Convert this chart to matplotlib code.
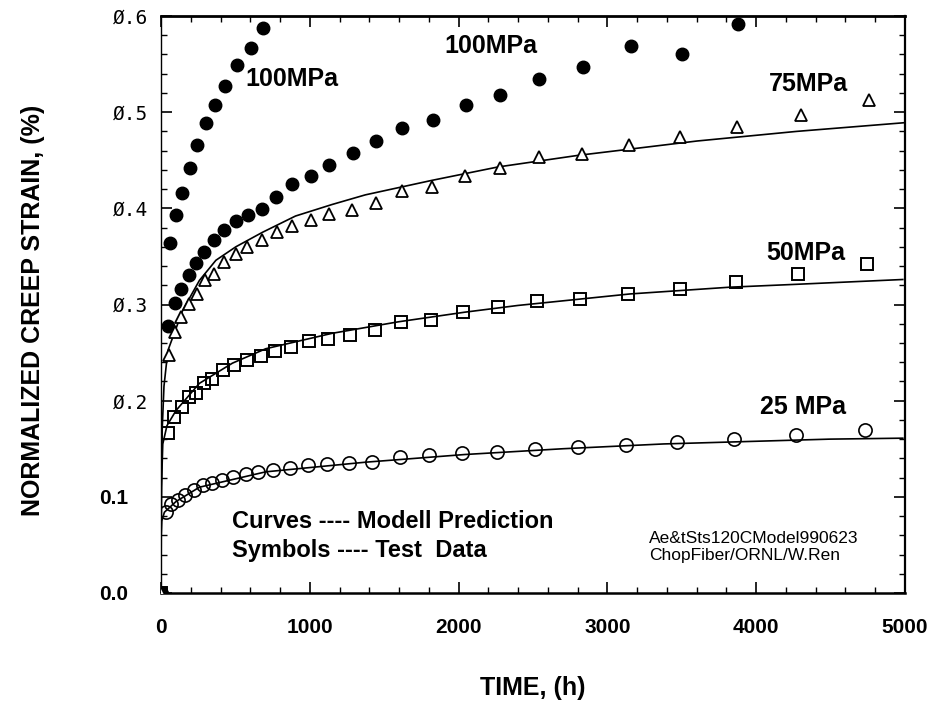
import matplotlib
matplotlib.use("Agg")
import matplotlib.pyplot as plt
from matplotlib.ticker import MultipleLocator, FixedLocator
from matplotlib.transforms import ScaledTranslation

# ---------------- data ----------------
# 100 MPa, fast test
t100a = [0, 62, 102, 139, 195, 242, 302, 365, 431, 514, 603, 686]
e100a = [0, 0.364, 0.393, 0.416, 0.442, 0.466, 0.489, 0.507, 0.527, 0.549, 0.567, 0.588]

# 100 MPa, second test
t100b = [0, 50, 95, 135, 186, 235, 291, 353, 425, 503, 587, 677, 775, 882, 1009,
         1132, 1288, 1443, 1622, 1825, 2048, 2280, 2542, 2833, 3156, 3502, 3876]
e100b = [0, 0.278, 0.302, 0.316, 0.331, 0.343, 0.355, 0.367, 0.377, 0.387, 0.393,
         0.399, 0.412, 0.425, 0.434, 0.445, 0.458, 0.470, 0.484, 0.492, 0.507,
         0.518, 0.534, 0.547, 0.569, 0.560, 0.592]

# 75 MPa
t75 = [0, 57, 97, 135, 186, 242, 298, 358, 425, 503, 581, 677, 777, 882, 1005,
       1132, 1283, 1443, 1622, 1818, 2041, 2276, 2538, 2829, 3146, 3490, 3874,
       4298, 4757]
e75 = [0, 0.247, 0.271, 0.287, 0.301, 0.311, 0.325, 0.332, 0.344, 0.353, 0.360,
       0.367, 0.375, 0.382, 0.388, 0.394, 0.398, 0.406, 0.418, 0.422, 0.434,
       0.442, 0.453, 0.456, 0.466, 0.474, 0.485, 0.497, 0.513]

# 50 MPa
t50 = [0, 45, 90, 142, 186, 235, 286, 346, 418, 492, 581, 670, 766, 875, 993,
       1122, 1272, 1435, 1613, 1814, 2030, 2264, 2527, 2817, 3138, 3486, 3863,
       4282, 4746]
e50 = [0, 0.166, 0.183, 0.193, 0.204, 0.208, 0.218, 0.223, 0.232, 0.237, 0.242,
       0.246, 0.252, 0.256, 0.262, 0.264, 0.268, 0.273, 0.282, 0.284, 0.292,
       0.297, 0.304, 0.306, 0.311, 0.316, 0.323, 0.332, 0.342]

# 25 MPa
t25 = [0, 35, 68, 112, 164, 219, 280, 342, 413, 485, 570, 654, 753, 864, 987,
       1116, 1266, 1421, 1607, 1801, 2023, 2260, 2516, 2804, 3122, 3468, 3848,
       4266, 4732]
e25 = [0, 0.084, 0.093, 0.097, 0.102, 0.107, 0.112, 0.114, 0.118, 0.121, 0.124,
       0.126, 0.128, 0.130, 0.133, 0.134, 0.135, 0.136, 0.141, 0.143, 0.146,
       0.147, 0.150, 0.152, 0.154, 0.157, 0.160, 0.164, 0.169]

# model prediction curves
tm75 = [0, 2, 8, 20, 46, 146, 258, 369, 503, 681, 904, 1150, 1373, 1818, 2264,
        2799, 3602, 4271, 4993]
em75 = [0, 0.10, 0.17, 0.215, 0.252, 0.294, 0.325, 0.346, 0.360, 0.375, 0.392,
        0.404, 0.414, 0.429, 0.443, 0.455, 0.470, 0.480, 0.489]
tm50 = [0, 3, 12, 40, 102, 258, 480, 704, 1149, 1595, 2041, 2398, 3154, 3823,
        4271, 4985]
em50 = [0, 0.11, 0.155, 0.174, 0.190, 0.218, 0.239, 0.254, 0.270, 0.282, 0.292,
        0.299, 0.311, 0.318, 0.321, 0.326]
tm25 = [0, 1, 5, 23, 100, 258, 704, 1373, 2041, 2700, 3379, 4494, 4985]
em25 = [0, 0.06, 0.075, 0.084, 0.095, 0.110, 0.126, 0.136, 0.144, 0.150, 0.155,
        0.160, 0.161]

xticks = [0, 1000, 2000, 3000, 4000, 5000]
xticklabels = ["0", "1000", "2000", "3000", "4000", "5000"]
yticks = [0.0, 0.1, 0.2, 0.3, 0.4, 0.5, 0.6]
yticklabels = ["0.0", "0.1", "Ø.2", "Ø.3", "Ø.4", "Ø.5", "Ø.6"]

labels = ["100MPa", "100MPa", "75MPa", "50MPa", "25 MPa"]
label_pos = [(570, 0.535), (1903, 0.569), (4082, 0.529), (4070, 0.354), (4026, 0.193)]

# ---------------- figure ----------------
W, H = 939, 709
fig = plt.figure(figsize=(W / 100, H / 100), dpi=100)
ax = fig.add_axes([161 / W, 116 / H, 744 / W, 577 / H])

SANS = "Liberation Sans"

for t, e in [(tm75, em75), (tm50, em50), (tm25, em25)]:
    ax.plot(t, e, color="black", lw=1.2, zorder=2)

ax.plot(t100a, e100a, ls="none", marker="o", ms=9, color="black", zorder=3)
ax.plot(t100b, e100b, ls="none", marker="o", ms=9, color="black", zorder=3)
ax.plot(t75, e75, ls="none", marker="^", ms=9, mfc="white", mec="black", mew=1.3, zorder=3)
ax.plot(t50, e50, ls="none", marker="s", ms=9, mfc="none", mec="black", mew=1.4, zorder=3)
ax.plot(t25, e25, ls="none", marker="o", ms=9.5, mfc="none", mec="black", mew=1.2, zorder=3)

ax.set_xlim(0, 5000)
ax.set_ylim(0, 0.6)

ax.xaxis.set_major_locator(FixedLocator(xticks))
ax.set_xticklabels(xticklabels)
ax.xaxis.set_minor_locator(MultipleLocator(200))
ax.yaxis.set_major_locator(FixedLocator(yticks))
ax.set_yticklabels(yticklabels)
ax.yaxis.set_minor_locator(MultipleLocator(0.02))

ax.tick_params(which="both", direction="in", top=True, right=True, color="black")
ax.tick_params(which="major", length=8, width=1.2)
ax.tick_params(which="minor", length=4.5, width=1.0)
ax.tick_params(axis="x", pad=18)
ax.tick_params(axis="y", pad=9)

for lab in ax.get_xticklabels():
    lab.set_fontfamily(SANS)
    lab.set_fontweight("bold")
    lab.set_fontsize(15)

for i, lab in enumerate(ax.get_yticklabels()):
    if i < 2:
        lab.set_fontfamily(SANS)
        lab.set_fontweight("bold")
        lab.set_fontsize(15)
        lab.set_transform(lab.get_transform() + ScaledTranslation(-0.2, 0, fig.dpi_scale_trans))
    else:
        lab.set_fontfamily("DejaVu Sans Mono")
        lab.set_fontsize(14)

ax.spines["left"].set_linewidth(1.0)
ax.spines["top"].set_linewidth(2.0)
ax.spines["bottom"].set_linewidth(1.8)
ax.spines["right"].set_linewidth(1.6)

ax.set_xlabel("TIME, (h)", fontfamily=SANS, fontweight="bold", fontsize=18, labelpad=28)
ax.set_ylabel("NORMALIZED CREEP STRAIN, (%)", fontfamily=SANS, fontweight="bold",
              fontsize=18)
ax.yaxis.set_label_coords(-0.156, 0.49)

for s, (x, y) in zip(labels, label_pos):
    ax.text(x, y, s, fontfamily=SANS, fontweight="bold", fontsize=18, ha="left", va="center")

ax.text(480, 0.074, "Curves ---- Modell Prediction", fontfamily=SANS, fontweight="bold",
        fontsize=17, ha="left", va="center")
ax.text(480, 0.044, "Symbols ---- Test  Data", fontfamily=SANS, fontweight="bold",
        fontsize=17, ha="left", va="center")
ax.text(3280, 0.048, "Ae&tSts120CModel990623\nChopFiber/ORNL/W.Ren", fontfamily=SANS,
        fontsize=12.5, ha="left", va="center", linespacing=1.15)

fig.savefig("out.png", dpi=100)
